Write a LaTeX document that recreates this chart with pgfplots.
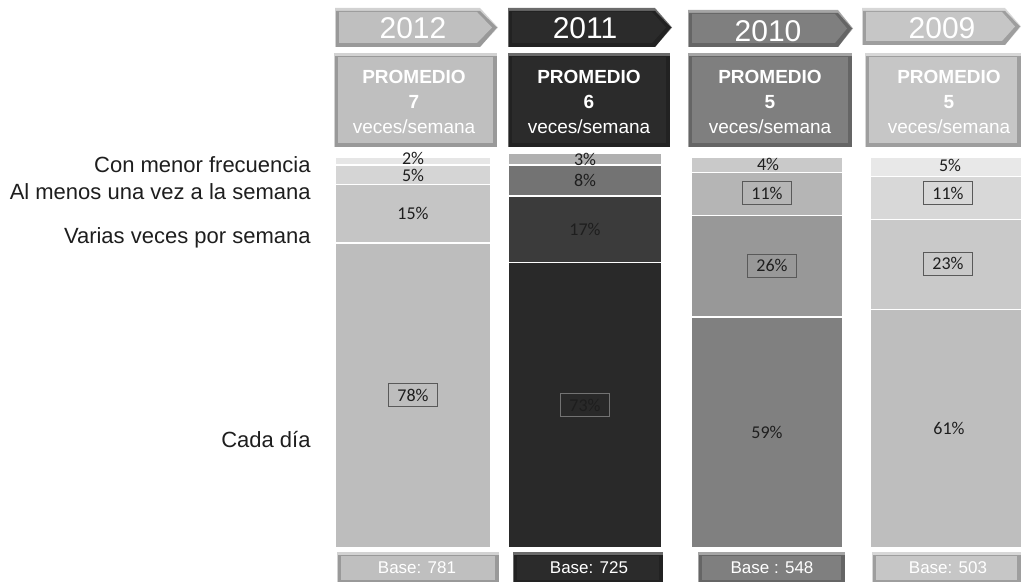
\documentclass[border=0pt]{standalone}
\usepackage{pgfplots}
\pgfplotsset{compat=1.18}
\usepackage{fontspec}
\setmainfont{Liberation Sans}
\newfontfamily\carl{Carlito}

% segment colours, bottom to top
\definecolor{aA}{HTML}{BDBDBD}\definecolor{aB}{HTML}{C5C5C5}\definecolor{aC}{HTML}{D5D5D5}\definecolor{aD}{HTML}{E6E6E6}
\definecolor{bA}{HTML}{292929}\definecolor{bB}{HTML}{3B3B3B}\definecolor{bC}{HTML}{737373}\definecolor{bD}{HTML}{B0B0B0}
\definecolor{cA}{HTML}{808080}\definecolor{cB}{HTML}{989898}\definecolor{cC}{HTML}{B5B5B5}\definecolor{cD}{HTML}{C9C9C9}
\definecolor{dA}{HTML}{BEBEBE}\definecolor{dB}{HTML}{C9C9C9}\definecolor{dC}{HTML}{D8D8D8}\definecolor{dD}{HTML}{E8E8E8}
% header colours
\definecolor{hA}{HTML}{BFBFBF}\definecolor{hB}{HTML}{2B2B2B}\definecolor{hC}{HTML}{7F7F7F}\definecolor{hD}{HTML}{C6C6C6}
\definecolor{txt}{HTML}{1E1E1E}

\pgfplotsset{frame/.style={scale only axis, width=510.5pt, height=291pt,
  xmin=0, xmax=1021, ymin=-8.7, ymax=140.15, enlargelimits=false, hide axis, clip=true},
  col/.style={frame, ybar stacked, bar width=#1,
  every axis plot/.append style={draw=white, line width=0.8pt}}}

\tikzset{
  pct/.style={font=\carl\fontsize{9}{9.5}\selectfont, text=txt, inner sep=0pt},
  pctbox/.style={pct, draw=black!65, line width=0.5pt, minimum width=24.5pt, minimum height=11.5pt},
  lab/.style={font=\fontsize{11}{12}\selectfont, text=txt, anchor=east, inner sep=0pt},
  yr/.style={font=\fontsize{15}{16}\selectfont, text=white, inner sep=0pt},
  prom/.style={align=center, text=white, inner sep=0pt, font=\fontsize{9.5}{12.5}\selectfont},
  base/.style={font=\fontsize{8.5}{10}\selectfont, text=white, inner sep=0pt}
}

\begin{document}
\begin{tikzpicture}
% ---- 2012
\begin{axis}[col=156]
\addplot[fill=aA] coordinates {(413,78)};
\addplot[fill=aB] coordinates {(413,15)};
\addplot[fill=aC] coordinates {(413,5)};
\addplot[fill=aD] coordinates {(413,2)};
\coordinate (bl) at (axis cs:0,-8.7);
\coordinate (tr) at (axis cs:1021,140.15);
\end{axis}
% ---- 2011
\begin{axis}[col=153]
\addplot[fill=bA] coordinates {(585,73)};
\addplot[fill=bB] coordinates {(585,17)};
\addplot[fill=bC] coordinates {(585,8)};
\addplot[fill=bD] coordinates {(585,3)};
\end{axis}
% ---- 2010
\begin{axis}[col=152]
\addplot[fill=cA] coordinates {(767,59)};
\addplot[fill=cB] coordinates {(767,26)};
\addplot[fill=cC] coordinates {(767,11)};
\addplot[fill=cD] coordinates {(767,4)};
\end{axis}
% ---- 2009
\begin{axis}[col=152]
\addplot[fill=dA] coordinates {(946,61)};
\addplot[fill=dB] coordinates {(946,23)};
\addplot[fill=dC] coordinates {(946,11)};
\addplot[fill=dD] coordinates {(946,5)};
\end{axis}
% ---- value labels, on top of all bars
\begin{axis}[frame]
\node[pctbox] at (axis cs:413,39) {78\%};
\node[pct] at (axis cs:413,85.5) {15\%};
\node[pct] at (axis cs:413,95.2) {5\%};
\node[pct] at (axis cs:413,99.6) {2\%};
\node[pctbox, draw=black!55!white] at (axis cs:585,36.5) {73\%};
\node[pct] at (axis cs:585,81.5) {17\%};
\node[pct] at (axis cs:585,94) {8\%};
\node[pct] at (axis cs:585,99.3) {3\%};
\node[pct] at (axis cs:767,29.5) {59\%};
\node[pctbox] at (axis cs:772,72.2) {26\%};
\node[pctbox] at (axis cs:767,90.7) {11\%};
\node[pct] at (axis cs:768,98.2) {4\%};
\node[pct] at (axis cs:949,30.5) {61\%};
\node[pctbox] at (axis cs:948,72.7) {23\%};
\node[pctbox] at (axis cs:948,90.7) {11\%};
\node[pct] at (axis cs:950,97.8) {5\%};
\end{axis}

% ---- decorations in pixel units (y downwards)
\begin{scope}[x=0.5pt, y=-0.5pt, shift={(0pt,291pt)}]
  % left labels
  \node[lab] at (311,165) {Con menor frecuencia};
  \node[lab] at (311,192) {Al menos una vez a la semana};
  \node[lab] at (311,238) {Varias veces por semana};
  \node[lab] at (311,440) {Cada día};
  % year arrows
  \foreach \c/\l/\r/\t/\tp/\bt/\yr/\cx/\cy in {hA/335/480/8/498/47/2012/413/28, hB/508/655/8/672/47/2011/585/28, hC/688/838/10/853/47/2010/768/31, hD/862/1005/8/1021/45/2009/942/28}{
    \fill[\c!70!white] (\l,\t) -- (\r,\t) -- (\tp,{(\t+\bt)/2}) -- (\r,\bt) -- (\l,\bt) -- cycle;
    \fill[\c!80!black] (\l+1,\t+3) -- (\r,\t+3) -- (\tp-1,{(\t+\bt)/2}) -- (\r,\bt) -- (\l+1,\bt) -- cycle;
    \fill[\c] (\l+4,\t+4) -- (\r-3,\t+4) -- (\tp-6,{(\t+\bt)/2}) -- (\r-3,\bt-4) -- (\l+4,\bt-4) -- cycle;
    \node[yr] at (\cx,\cy) {\yr};
  }
  % PROMEDIO boxes
  \foreach \c/\l/\r/\cx/\n in {hA/334/497/414/7, hB/508/670/589/6, hC/688/852/770/5, hD/865/1021/949/5}{
    \fill[\c!70!white] (\l,53) rectangle (\r,147);
    \fill[\c!80!black] (\l+1,56) rectangle (\r,147);
    \fill[\c] (\l+4,57) rectangle (\r-4,143);
    \node[prom] at (\cx,102) {\textbf{PROMEDIO}\\\textbf{\n}\\veces/semana};
  }
  % Base boxes
  \foreach \c/\l/\r/\cx/\txt in {hA/337/499/417/{Base: 781}, hB/513/663/589/{Base: 725}, hC/698/845/772/{Base : 548}, hD/872/1021/948/{Base: 503}}{
    \fill[\c!70!white] (\l,552) rectangle (\r,582);
    \fill[\c!80!black] (\l+1,555) rectangle (\r,582);
    \fill[\c] (\l+4,556) rectangle (\r-4,580);
    \node[base] at (\cx,568) {\txt};
  }
\end{scope}
\pgfresetboundingbox
\path[use as bounding box] (bl) rectangle (tr);
\end{tikzpicture}
\end{document}
